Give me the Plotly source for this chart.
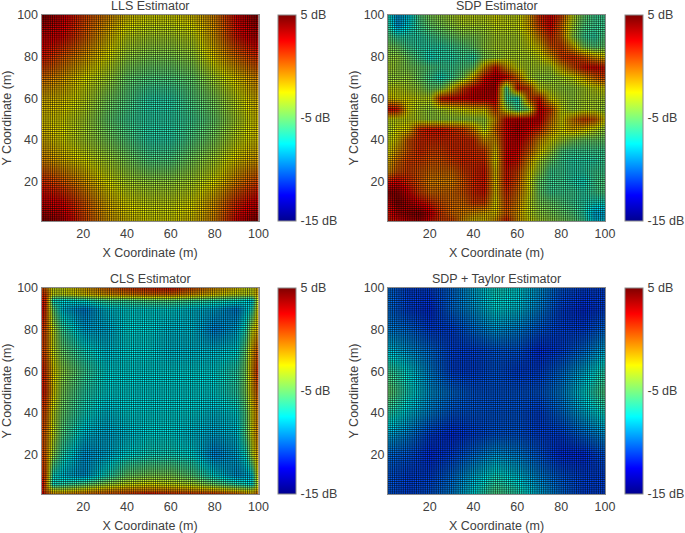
import plotly.graph_objects as go

W, H = 685, 533
titles = ["LLS Estimator", "SDP Estimator", "CLS Estimator", "SDP + Taylor Estimator"]
tick_values = [20, 40, 60, 80, 100]
cbar_ticks = [-15, -5, 5]
cbar_labels = ["-15 dB", "-5 dB", "5 dB"]
mesh_positions = list(range(1, 101))

lls_nodes = [1, 10, 20, 30, 40, 50, 60, 70, 80, 90, 100]
lls_rows = [
    [4.5, 3, 1, -0.5, -2, -2.5, -2.5, -2, -0.5, 2.5, 4.5],
    [3, 2.5, 0.5, -1.5, -3, -3.5, -3.5, -3, -1, 2, 3.5],
    [2, 0.5, -1, -2.5, -4, -4.5, -4.5, -4, -2, 0, 1.5],
    [0, -1, -2.5, -3.5, -5, -5.5, -5.5, -5, -3.5, -2, -0.5],
    [-1.5, -2, -3, -4.5, -5.5, -6.5, -6.5, -5.5, -4.5, -3, -1.5],
    [-2, -2.5, -3.5, -5, -6, -6.5, -6.5, -6, -5, -3.5, -2],
    [-1.5, -2.5, -3.5, -4.5, -5.5, -6.5, -6.5, -5.5, -4.5, -3, -2],
    [-0.5, -1.5, -2.5, -3.5, -4.5, -5.5, -5.5, -4.5, -3.5, -2, -1],
    [1.5, 0.5, -1, -2.5, -3.5, -4, -4, -3.5, -2.5, -0.5, 1],
    [3, 2.5, 0.5, -1.5, -2.5, -3, -3, -2.5, -1, 1.5, 3],
    [4.5, 3.5, 1, -1, -2, -2.5, -2.5, -2, -0.5, 2.5, 4.5],
]

sdp_nodes = [1, 5, 10, 15, 20, 25, 30, 35, 40, 45, 50, 55, 60, 65, 70, 75, 80, 85, 90, 95, 100]
sdp_rows = [
    [-7, -9, -8, -5.5, -4.5, -4, -3.5, -3, -3, -3, -2.5, -3, -3, -1.5, 1.5, 2.5, 1, -3, -5, -6, -6],
    [-6.5, -9, -7.5, -6, -5, -4.5, -4, -3.5, -3.5, -3.5, -3, -3, -3, -1.5, 1, 2.5, 0, -3.5, -5.5, -6, -6],
    [-5.5, -6.5, -6.5, -6.5, -6, -5.5, -5, -4.5, -4.5, -4, -3.5, -3.5, -3.5, -2.5, -0.5, 1.5, 0, -4, -6, -6.5, -5.5],
    [-4.5, -5, -6, -6.5, -6.5, -6.5, -6, -5.5, -5, -4, -3.5, -3.5, -3.5, -3, -2, 0.5, 1, -1.5, -4.5, -5.5, -5],
    [-4, -4, -5, -6, -7, -6.5, -6.5, -6, -6.5, -4.5, -4, -3.5, -3.5, -3.5, -3, -1.5, 1, 1.5, 0.5, -1, -2],
    [-3.5, -4, -4.5, -5, -5.5, -6, -6, -5.5, -5, -1, 2, -1, -3, -3.5, -3.5, -3.5, -1.5, 0.5, 2, 2.5, 2],
    [-4, -4, -4, -5, -6, -7, -6, -4.5, -1.5, 2, 3.5, 2.5, 0, -3.5, -4, -4, -3.5, -3, -1.5, 0, 1],
    [-3, -3, -3.5, -4, -5, -4.5, -2, 1, 2.5, 3, 3.5, -6, 2, 1, -3, -3.5, -4, -4, -3.5, -3, -2.5],
    [-2, -2.5, -2.5, -3, -3, 2, 2.5, 2.5, 3, 3, 3, -6, -7, 0.5, 2, -2.5, -3.5, -4, -3.5, -3.5, -3.5],
    [2.5, 2, -2.5, -3.5, -4, -3.5, -3, -2.5, -2, -2, 1, -3.5, -6, -4.5, 3, 1, -3, -4, -3.5, -3.5, -4],
    [-3, -3, -3, -3.5, -4, -4, -4, -4, -4, -4, -1, 2.5, 3, 3, 3, 0, -2.5, -0.5, 1, 0.5, -2.5],
    [-3.5, -2.5, -2, 1.5, 2, 2, 1.5, 1, -0.5, -3.5, 0, 2.5, 3.5, 2.5, 1.5, -1, -2.5, -1.5, -2, -3, -4],
    [-3, -2, 0.5, 1.5, 1.5, 1.5, 1.5, 1.5, 1.5, -1, -1, 2.5, 3, 1.5, -1, -2.5, -3.5, -4.5, -5, -5, -5],
    [-2.5, -1, 0.5, 1.5, 1, 1, 1.5, 1.5, 1.5, 1, -2, 2.5, 2.5, 0.5, -2, -3.5, -5.5, -6, -6, -6, -6],
    [-1.5, 0, 1, 1, 0.5, 0.5, 1, 1.5, 1.5, 1.5, -2.5, 2.5, 2, -1, -3.5, -5, -6, -6.5, -6.5, -6.5, -6],
    [-1, 0.5, 1, 0.5, 0, 0, 0, 1, 1.5, 2, -2, 2, 1, -2, -4, -6, -6, -6.5, -6.5, -6, -6],
    [2, 2.5, 1.5, 0.5, -0.5, -0.5, -0.5, 0.5, 1.5, 2, -2, 2, 0.5, -2.5, -5, -6, -6, -6.5, -7, -6, -5.5],
    [4, 4, 2.5, 1, 0, 0, 0, 0.5, 1.5, 2, -2, 1.5, 0, -2.5, -5, -6, -6, -6, -6.5, -6, -5.5],
    [3, 4.5, 3.5, 2.5, 1.5, 0.5, 0, 0, 1, 1, -2.5, 1, -0.5, -3, -4.5, -5, -5.5, -6, -6.5, -7, -7],
    [2, 3.5, 4, 4.5, 3, 1, 0, -0.5, -1, -1.5, -2, 0.5, -1, -3, -4, -4.5, -5, -5.5, -6.5, -8.5, -8.5],
    [2, 2, 3, 3.5, 2, 1, 1, -1, -2, -2, -1, 2, -1, -2.5, -3.5, -4, -4.5, -5, -6, -8, -8],
]

cls_nodes = [1, 3, 6, 10, 20, 30, 40, 50, 60, 70, 80, 90, 94, 97, 100]
cls_y_nodes = [100, 97, 94, 90, 80, 70, 60, 50, 40, 30, 20, 10, 6, 3, 1]
cls_rows = [
    [1, 0, -3, -3, -1.5, 0, 1, 1.5, 2, 0.5, -1, -2, -3, -3, -1],
    [1.5, 1, -3, -3, -2, -1, -0.5, 0, 0, -1, -2, -3, -3, -3, -1],
    [2, 1.5, -7, -7.5, -7, -6, -6, -5.5, -5.5, -6, -6.5, -7, -7.5, -8, -2],
    [2.5, 1, -5, -8, -9.5, -8, -7.5, -7.5, -7.5, -8, -8.5, -9.5, -8, -7, -1],
    [1.5, 0.5, -3, -6, -8.5, -8.5, -7.5, -7.5, -8, -8, -9.5, -8.5, -6.5, -3, -1],
    [1, 0.5, -3, -5, -7, -8, -7.5, -7.5, -8, -8, -8, -7.5, -5, -1.5, 1],
    [2, 1, -2, -4, -6, -7.5, -7.5, -7.5, -7.5, -7.5, -7.5, -6.5, -4.5, -1, 2],
    [2, 1.5, -2, -4.5, -6.5, -7.5, -7.5, -7.5, -7.5, -7.5, -7.5, -6.5, -4.5, -1.5, 1],
    [1, 0.5, -3, -5, -7, -8, -7.5, -7.5, -7.5, -7.5, -8, -7.5, -5.5, -2.5, 0],
    [1, 0, -3, -5.5, -8, -8.5, -8, -7.5, -7.5, -8, -8.5, -8, -5.5, -2.5, 0],
    [1, 0, -4, -6.5, -9, -8.5, -7.5, -7, -7, -7.5, -9.5, -8.5, -7, -3.5, -0.5],
    [1.5, 0.5, -7, -8, -9, -7, -5, -4.5, -4.5, -5.5, -7.5, -9, -8.5, -8, -1],
    [3, 0, -7, -6.5, -5.5, -4, -3, -2.5, -3, -3.5, -5, -6.5, -7, -7.5, -2],
    [2, 0, -2.5, -3, -2, -1, -0.5, -0.5, -0.5, -1, -1.5, -2.5, -3, -3, -1],
    [4, 1.5, -0.5, 0, 0.5, 1, 1.5, 3, 2, 2, 2, 1, 0, -1, 1],
]

taylor_nodes = [1, 10, 20, 30, 40, 50, 60, 70, 80, 90, 100]
taylor_rows = [
    [-10, -11, -11, -10, -8.5, -7, -7.5, -9, -10.5, -11, -11],
    [-10, -11, -11.5, -10, -9, -7.5, -8, -9.5, -11, -11.5, -11],
    [-9.5, -10, -11, -11, -10, -9, -9.5, -10.5, -11, -11, -10],
    [-8, -9, -10, -11, -11, -10.5, -10.5, -11.5, -11, -10, -8.5],
    [-6, -7.5, -9.5, -11, -11, -10.5, -11, -11, -10, -8.5, -6.5],
    [-5, -7, -9, -10, -10.5, -10.5, -10.5, -10.5, -9.5, -7.5, -5.5],
    [-6.5, -8, -9.5, -10.5, -10.5, -10.5, -10.5, -11, -10, -8.5, -7],
    [-8.5, -9.5, -11, -11.5, -11, -10.5, -10.5, -11, -11, -10, -9],
    [-10, -10.5, -11.5, -11, -10, -9, -9.5, -10.5, -11.5, -11.5, -10.5],
    [-10.5, -11, -11, -10, -8.5, -7, -8, -9.5, -10.5, -11, -11],
    [-10.5, -11, -10.5, -9.5, -7.5, -5.5, -6.5, -8.5, -10, -11, -11],
]

panels = [
    (lls_nodes, lls_nodes[::-1], lls_rows),
    (sdp_nodes, sdp_nodes[::-1], sdp_rows),
    (cls_nodes, cls_y_nodes, cls_rows),
    (taylor_nodes, taylor_nodes[::-1], taylor_rows),
]

# pixel boxes: left, right, top, bottom of plot area, left of colour bar
boxes = [
    (41.5, 258.5, 15, 221, 278),
    (388, 605, 15, 221, 625),
    (41.5, 258.5, 288, 494, 278),
    (388, 605, 288, 494, 625),
]

jet = [
    [0.0, "#00008f"], [0.125, "#0000ff"], [0.375, "#00ffff"],
    [0.625, "#ffff00"], [0.875, "#ff0000"], [1.0, "#800000"],
]
font_family = "Liberation Sans, Arial, sans-serif"
text_color = "#404040"
font = dict(family=font_family, size=12.5, color=text_color)

mesh_x, mesh_y = [], []
for p in mesh_positions:
    mesh_x += [p, p, None, 1, 100, None]
    mesh_y += [1, 100, None, p, p, None]

fig = go.Figure()
layout = dict(
    width=W, height=H, autosize=False,
    margin=dict(l=0, r=0, t=0, b=0, pad=0, autoexpand=False),
    paper_bgcolor="white", plot_bgcolor="white", showlegend=False, font=font,
)
annotations = []
for i, ((xs, ys, rows), box, title) in enumerate(zip(panels, boxes, titles)):
    n = "" if i == 0 else str(i + 1)
    l, r, t, b, cb = box
    fig.add_trace(go.Heatmap(
        x=xs, y=ys, z=rows, zmin=-15, zmax=5, zsmooth="best", colorscale=jet,
        xaxis="x" + n, yaxis="y" + n, hoverinfo="skip",
        colorbar=dict(
            x=cb / W, xanchor="left", xpad=0, ypad=0,
            y=1 - b / H, yanchor="bottom", len=(b - t) / H, lenmode="fraction",
            thickness=18, thicknessmode="pixels",
            tickvals=cbar_ticks, ticktext=cbar_labels,
            ticks="outside", ticklen=2, tickcolor="rgba(0,0,0,0)",
            tickfont=font, outlinecolor="#8a8a8a", outlinewidth=1,
        ),
    ))
    fig.add_trace(go.Scatter(
        x=mesh_x, y=mesh_y, mode="lines", xaxis="x" + n, yaxis="y" + n,
        line=dict(color="rgba(0,0,0,0.65)", width=0.85), hoverinfo="skip",
    ))
    axis_common = dict(
        range=[1, 100], tickvals=tick_values, ticks="", showgrid=False, zeroline=False,
        showline=True, mirror=True, linecolor="#8a8a8a", linewidth=1, tickfont=font,
    )
    layout["xaxis" + n] = dict(
        axis_common, domain=[l / W, r / W], anchor="y" + n, ticklabelstandoff=1,
        title=dict(text="X Coordinate (m)", font=font, standoff=8),
    )
    layout["yaxis" + n] = dict(
        axis_common, domain=[1 - b / H, 1 - t / H], anchor="x" + n,
        title=dict(text="Y Coordinate (m)", font=font, standoff=2),
    )
    annotations.append(dict(
        text=title, x=(l + r) / 2 / W, y=1 - t / H, xref="paper", yref="paper",
        xanchor="center", yanchor="bottom", showarrow=False, font=font,
    ))
layout["annotations"] = annotations
fig.update_layout(**layout)
fig.write_html(
    "out.html",
    config={"displayModeBar": False},
    post_script="document.body.style.margin='0';document.body.style.overflow='hidden';",
)
